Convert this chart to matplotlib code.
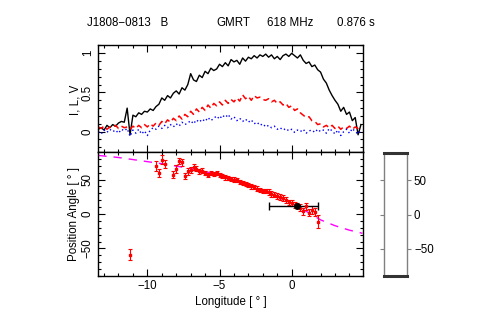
import numpy as np
import matplotlib
matplotlib.use("Agg")
import matplotlib.pyplot as plt
from matplotlib.ticker import MultipleLocator

plt.rcParams['font.family'] = ['Liberation Sans', 'DejaVu Sans']
plt.rcParams['font.size'] = 8.3

# %%
# Datos del perfil (bins de 0.2 grados)
lon = np.linspace(-13.4, 4.8, 92)

stokes_i = [0.03, 0.05, 0.02, 0.08, 0.05, 0.09, 0.07, 0.11, 0.13, 0.12,
            0.30, -0.04, 0.21, 0.19, 0.24, 0.22, 0.26, 0.25, 0.29, 0.27,
            0.32, 0.35, 0.43, 0.40, 0.46, 0.43, 0.49, 0.52, 0.48, 0.56,
            0.53, 0.60, 0.74, 0.66, 0.64, 0.72, 0.69, 0.77, 0.74, 0.81,
            0.78, 0.80, 0.86, 0.83, 0.88, 0.84, 0.92, 0.89, 0.91, 0.86,
            0.94, 0.90, 0.95, 0.93, 0.97, 0.94, 0.98, 0.96, 0.99, 0.95,
            0.98, 0.93, 0.96, 0.92, 0.97, 0.99, 0.96, 1.00, 0.97, 0.94,
            0.98, 0.91, 0.87, 0.89, 0.83, 0.85, 0.79, 0.76, 0.67, 0.62,
            0.53, 0.46, 0.40, 0.35, 0.26, 0.31, 0.22, 0.25, 0.14, 0.18,
            -0.04, 0.09]

stokes_l = [0.06, 0.04, 0.07, 0.03, 0.06, 0.05, 0.08, 0.04, 0.07, 0.05,
            0.06, 0.03, 0.07, 0.04, 0.08, 0.05, 0.09, 0.06, 0.10, 0.07,
            0.11, 0.08, 0.13, 0.10, 0.15, 0.12, 0.17, 0.14, 0.20, 0.16,
            0.22, 0.19, 0.26, 0.22, 0.29, 0.25, 0.31, 0.27, 0.34, 0.30,
            0.36, 0.33, 0.38, 0.34, 0.40, 0.36, 0.41, 0.38, 0.43, 0.39,
            0.47, 0.42, 0.45, 0.40, 0.46, 0.43, 0.44, 0.41, 0.40, 0.42,
            0.38, 0.40, 0.36, 0.38, 0.34, 0.36, 0.31, 0.33, 0.27, 0.29,
            0.24, 0.21, 0.18, 0.19, 0.14, 0.13, 0.09, 0.10, 0.06, 0.08,
            0.05, 0.08, 0.04, 0.07, 0.03, 0.06, 0.04, 0.07, 0.03, 0.06,
            0.04, 0.07]

stokes_v = [0.00, -0.03, 0.02, -0.01, 0.03, 0.00, 0.02, -0.02, 0.03, 0.01,
            0.04, -0.06, 0.02, -0.02, 0.03, -0.03, 0.01, -0.05, 0.02, 0.05,
            0.03, 0.07, 0.04, 0.08, 0.05, 0.09, 0.06, 0.10, 0.07, 0.12,
            0.09, 0.11, 0.14, 0.10, 0.15, 0.12, 0.16, 0.13, 0.18, 0.14,
            0.17, 0.20, 0.16, 0.21, 0.18, 0.22, 0.16, 0.19, 0.14, 0.17,
            0.13, 0.16, 0.12, 0.15, 0.10, 0.12, 0.08, 0.10, 0.06, 0.08,
            0.05, 0.07, 0.03, 0.05, 0.02, 0.04, 0.01, 0.03, -0.01, 0.02,
            0.00, 0.03, -0.02, 0.01, 0.02, -0.01, 0.03, 0.00, 0.02, -0.02,
            0.04, 0.01, -0.03, 0.02, -0.05, 0.00, 0.03, -0.02, 0.04, 0.00,
            -0.03, 0.02]

# Angulo de posicion medido
pa_lon = [-11.2, -9.4, -9.2, -9.0, -8.8, -8.2, -8.0, -7.8, -7.6, -7.4,
          -7.2, -7.0, -6.8, -6.6, -6.4, -6.2, -6.0, -5.8, -5.6, -5.4,
          -5.2, -5.0, -4.8, -4.6, -4.4, -4.2, -4.0, -3.8, -3.6, -3.4,
          -3.2, -3.0, -2.8, -2.6, -2.4, -2.2, -2.0, -1.8, -1.6, -1.4,
          -1.2, -1.0, -0.8, -0.6, -0.4, -0.2, 0.0, 0.2, 0.4, 0.6,
          0.8, 1.0, 1.2, 1.4, 1.6, 1.8]
pa_val = [-59, 70, 59, 79, 73, 57, 65, 77, 75, 55,
          62, 64, 68, 66, 62, 63, 60, 57, 59, 58,
          60, 56, 55, 53, 52, 51, 50, 49, 47, 45,
          44, 42, 40, 39, 37, 35, 34, 33, 32, 29,
          28, 26, 25, 23, 20, 17, 16, 13, 12, 9,
          4, 11, 2, 6, 3, -11]
pa_err = [8, 7, 6, 7, 6, 5, 6, 5, 5, 4,
          5, 4, 4, 4, 4, 4, 3, 3, 3, 3,
          3, 3, 3, 3, 3, 3, 3, 3, 3, 3,
          3, 3, 3, 3, 3, 3, 3, 3, 4, 4,
          4, 4, 4, 4, 4, 4, 4, 4, 4, 5,
          5, 5, 5, 6, 6, 9]

# Curva RVM ajustada
fit_lon = [-13.4, -12, -11, -10, -9, -8, -7, -6, -5, -4, -3, -2, -1,
           0, 0.4, 1, 2, 3, 4, 4.9]
fit_pa = [85, 82, 79, 76, 73, 69.5, 66, 61.5, 56.5, 50.5, 43.5, 35, 25,
          15, 11, 4, -8.5, -17, -23.5, -28]

# Punto del ajuste (phi0, psi0)
fit_pt_lon = 0.4
fit_pt_pa = 11
fit_pt_xerr = [[2.0], [1.4]]

# %%
fig = plt.figure(figsize=(4.91, 3.27), dpi=100)
ax1 = fig.add_axes([0.1996, 0.5352, 0.5397, 0.3272])
ax2 = fig.add_axes([0.1996, 0.156, 0.5397, 0.3792], sharex=ax1)
ax3 = fig.add_axes([0.782, 0.156, 0.047, 0.376])

ax1.plot(lon, stokes_i, color='black', lw=1.0)
ax1.plot(lon, stokes_l, color='red', lw=1.1, linestyle=(0, (4, 2.5)))
ax1.plot(lon, stokes_v, color='blue', lw=1.0, linestyle=(0, (1, 2)))
ax1.set_xlim(-13.42, 4.94)
ax1.set_ylim(-0.26, 1.106)
ax1.yaxis.set_minor_locator(MultipleLocator(0.1))
ax1.set_yticks([0, 0.5, 1])
ax1.set_yticklabels(['0', '0.5', '1'], rotation=90, va='center')
plt.setp(ax1.get_xticklabels(), visible=False)

ax2.plot(fit_lon, fit_pa, color='magenta', lw=1.0, linestyle=(0, (6, 5)))
ax2.errorbar(pa_lon, pa_val, yerr=pa_err, fmt='s', color='red', ms=1.6,
             elinewidth=0.8, capsize=1.5, capthick=0.8)
ax2.errorbar([fit_pt_lon], [fit_pt_pa], xerr=fit_pt_xerr, fmt='o',
             color='black', ms=4, elinewidth=1.0, capsize=3, capthick=1.0)
ax2.set_ylim(-90, 90)
ax2.xaxis.set_major_locator(MultipleLocator(5))
ax2.xaxis.set_minor_locator(MultipleLocator(1))
ax2.yaxis.set_minor_locator(MultipleLocator(10))
ax2.set_yticks([-50, 0, 50])
ax2.set_yticklabels(['\u221250', '0', '50'], rotation=90, va='center')
ax2.set_xticks([-10, -5, 0])
ax2.set_xticklabels(['\u221210', '\u22125', '0'])

for ax in (ax1, ax2):
    ax.tick_params(which='both', direction='in', top=True, right=True,
                   width=0.8, colors='black')
    ax.tick_params(which='major', length=5, pad=3)
    ax.tick_params(which='minor', length=2.5)
    for s in ax.spines.values():
        s.set_linewidth(1.0)

# Panel lateral
ax3.set_xlim(0, 1)
ax3.set_ylim(-90, 90)
ax3.set_xticks([])
ax3.set_yticks([-50, 0, 50])
ax3.set_yticklabels(['\u221250', '0', '50'])
ax3.yaxis.tick_right()
ax3.tick_params(axis='y', which='major', direction='out', left=True, right=True,
                length=3, width=0.8, color='gray', pad=2)
for s in ['left', 'right']:
    ax3.spines[s].set_color('gray')
    ax3.spines[s].set_linewidth(1.0)
for s in ['top', 'bottom']:
    ax3.spines[s].set_color('#333333')
    ax3.spines[s].set_linewidth(2.2)

# Textos
fig.text(0.177, 0.93, 'J1808\u22120813   B', va='center')
fig.text(0.441, 0.93, 'GMRT', va='center')
fig.text(0.543, 0.93, '618 MHz', va='center')
fig.text(0.686, 0.93, '0.876 s', va='center')
fig.text(0.153, 0.695, 'I, L, V', rotation=90, ha='center', va='center')
fig.text(0.151, 0.345, 'Position Angle [ \u00b0 ]', rotation=90, ha='center', va='center')
fig.text(0.47, 0.077, 'Longitude [ \u00b0 ]', ha='center', va='center')

fig.savefig('out.png', dpi=100)
